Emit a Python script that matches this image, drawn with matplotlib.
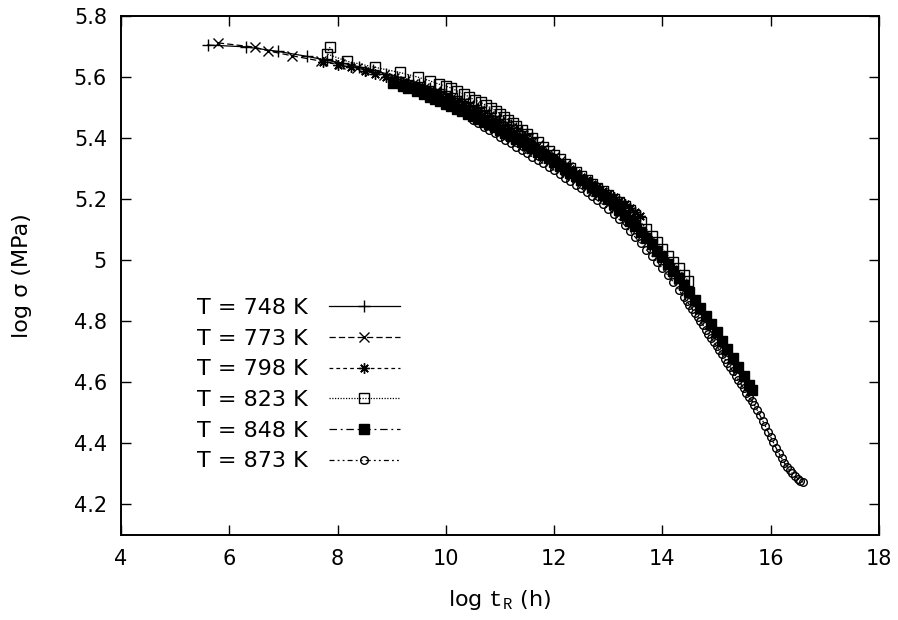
import matplotlib
matplotlib.use("Agg")
import matplotlib.pyplot as plt

plt.rcParams["font.family"] = ["DejaVu Sans"]
plt.rcParams["mathtext.fontset"] = "custom"
plt.rcParams["mathtext.tt"] = "Liberation Mono"
plt.rcParams["mathtext.rm"] = "DejaVu Sans"

# --- data (log t_R, log sigma) ---
x748 = [5.60, 6.30, 6.90, 7.43, 7.80, 8.10, 8.40, 8.65, 8.90, 9.10, 9.30, 9.50,
        9.6, 9.7, 9.8, 9.9, 10.0, 10.1, 10.2, 10.3, 10.4, 10.5, 10.6, 10.7, 10.8,
        10.9, 11.0, 11.1, 11.2, 11.3, 11.4, 11.5, 11.6]
y748 = [5.705, 5.699, 5.684, 5.668, 5.655, 5.645, 5.634, 5.623, 5.611, 5.601, 5.590, 5.578,
        5.572, 5.565, 5.559, 5.552, 5.545, 5.538, 5.530, 5.522, 5.514, 5.506, 5.498, 5.490, 5.481,
        5.472, 5.463, 5.453, 5.443, 5.433, 5.423, 5.412, 5.401]

x773 = [5.79, 6.47, 6.71, 7.15, 7.70, 8.04, 8.35, 8.60, 8.85, 9.05, 9.25,
        9.4, 9.5, 9.6, 9.7, 9.8, 9.9, 10.0, 10.1, 10.2, 10.3, 10.4, 10.5, 10.6, 10.7,
        10.8, 10.9, 11.0, 11.1, 11.2, 11.3, 11.4, 11.5, 11.6, 11.7, 11.8, 11.9, 12.0,
        12.1, 12.2, 12.25]
y773 = [5.712, 5.698, 5.686, 5.670, 5.652, 5.642, 5.630, 5.619, 5.607, 5.597, 5.586,
        5.577, 5.571, 5.565, 5.558, 5.551, 5.544, 5.537, 5.530, 5.522, 5.514, 5.506, 5.498, 5.489, 5.480,
        5.471, 5.462, 5.452, 5.442, 5.432, 5.421, 5.410, 5.399, 5.388, 5.376, 5.364, 5.352, 5.339,
        5.326, 5.313, 5.306]

x798 = [7.73, 8.00, 8.25, 8.50, 8.70, 8.90, 9.05, 9.2, 9.3, 9.4, 9.5, 9.6, 9.7, 9.8, 9.9,
        10.0, 10.1, 10.2, 10.3, 10.4, 10.5, 10.6, 10.7, 10.8, 10.9, 11.0, 11.1, 11.2, 11.3,
        11.4, 11.5, 11.6, 11.7, 11.8, 11.9, 12.0, 12.1, 12.2, 12.3, 12.4, 12.5, 12.6, 12.7,
        12.8, 12.9, 13.0, 13.1, 13.2, 13.3, 13.4, 13.5, 13.58]
y798 = [5.650, 5.641, 5.632, 5.621, 5.611, 5.601, 5.593, 5.584, 5.578, 5.572, 5.565, 5.558, 5.551, 5.543, 5.536,
        5.528, 5.520, 5.512, 5.503, 5.494, 5.485, 5.476, 5.467, 5.457, 5.448, 5.438, 5.428, 5.418, 5.408,
        5.397, 5.387, 5.376, 5.365, 5.354, 5.343, 5.332, 5.320, 5.310, 5.298, 5.286, 5.274, 5.262, 5.250,
        5.239, 5.228, 5.217, 5.206, 5.195, 5.183, 5.170, 5.157, 5.145]

x823 = [7.86, 7.80, 8.17, 8.69, 9.15, 9.48, 9.70, 9.87, 10.00, 10.10, 10.20, 10.33, 10.43, 10.53,
        10.64, 10.74, 10.83, 10.92, 11.00, 11.07, 11.15, 11.24, 11.3, 11.4, 11.5, 11.6, 11.7,
        11.8, 11.9, 12.0, 12.1, 12.2, 12.3, 12.4, 12.5, 12.6, 12.7, 12.8, 12.9, 13.0, 13.1,
        13.2, 13.3, 13.4, 13.5, 13.6, 13.7, 13.8, 13.9, 14.0, 14.1, 14.2, 14.3, 14.4, 14.47]
y823 = [5.698, 5.676, 5.652, 5.632, 5.615, 5.600, 5.588, 5.577, 5.570, 5.564, 5.555, 5.544, 5.535, 5.525,
        5.517, 5.508, 5.499, 5.490, 5.480, 5.470, 5.460, 5.450, 5.440, 5.427, 5.414, 5.400, 5.386,
        5.372, 5.358, 5.344, 5.330, 5.316, 5.302, 5.289, 5.276, 5.263, 5.250, 5.238, 5.226, 5.214, 5.202,
        5.190, 5.177, 5.163, 5.148, 5.125, 5.103, 5.081, 5.059, 5.037, 5.015, 4.994, 4.973, 4.951, 4.933]

x848 = [9.02, 9.2, 9.3, 9.46, 9.6, 9.7, 9.8, 9.9, 10.0, 10.1, 10.2, 10.3, 10.4, 10.5, 10.6,
        10.7, 10.8, 10.9, 11.0, 11.1, 11.2, 11.3, 11.4, 11.5, 11.6, 11.7, 11.8, 11.9, 12.0,
        12.1, 12.2, 12.3, 12.4, 12.5, 12.6, 12.7, 12.8, 12.9, 13.0, 13.1, 13.2, 13.3, 13.4,
        13.5, 13.6, 13.7, 13.8, 13.9, 14.0, 14.1, 14.2, 14.3, 14.4, 14.5, 14.6, 14.7, 14.8,
        14.9, 15.0, 15.1, 15.2, 15.3, 15.4, 15.5, 15.6, 15.65]
y848 = [5.580, 5.570, 5.564, 5.554, 5.543, 5.535, 5.528, 5.520, 5.512, 5.504, 5.496, 5.488, 5.480, 5.472, 5.463,
        5.454, 5.446, 5.437, 5.428, 5.418, 5.408, 5.398, 5.388, 5.378, 5.367, 5.356, 5.345, 5.334, 5.322,
        5.310, 5.298, 5.287, 5.275, 5.263, 5.252, 5.239, 5.226, 5.213, 5.200, 5.183, 5.166, 5.148, 5.130,
        5.111, 5.092, 5.072, 5.052, 5.031, 5.010, 4.988, 4.966, 4.943, 4.920, 4.896, 4.871, 4.845, 4.818,
        4.791, 4.764, 4.736, 4.708, 4.679, 4.650, 4.620, 4.590, 4.576]

x873 = [10.5, 10.6, 10.7, 10.8, 10.9, 11.0, 11.1, 11.2, 11.3, 11.4, 11.5, 11.6, 11.7, 11.8,
        11.9, 12.0, 12.1, 12.2, 12.3, 12.4, 12.5, 12.6, 12.7, 12.8, 12.9, 13.0, 13.1, 13.2,
        13.3, 13.4, 13.5, 13.6, 13.7, 13.8, 13.9, 14.0, 14.1, 14.2, 14.3,
        14.40, 14.45, 14.50, 14.55, 14.60, 14.65, 14.70, 14.75, 14.80, 14.85, 14.90, 14.95,
        15.00, 15.05, 15.10, 15.15, 15.20, 15.25, 15.30, 15.35, 15.40, 15.45, 15.50, 15.55,
        15.60, 15.65, 15.70, 15.75, 15.80, 15.85, 15.90, 15.95, 16.00, 16.05, 16.10, 16.15,
        16.20, 16.25, 16.30, 16.35, 16.40, 16.45, 16.50, 16.55, 16.60]
y873 = [5.458, 5.448, 5.437, 5.426, 5.416, 5.405, 5.394, 5.383, 5.372, 5.361, 5.350, 5.339, 5.328, 5.317,
        5.306, 5.295, 5.283, 5.271, 5.259, 5.247, 5.235, 5.222, 5.209, 5.196, 5.183, 5.169, 5.152, 5.134,
        5.115, 5.095, 5.075, 5.055, 5.035, 5.015, 4.995, 4.973, 4.951, 4.929, 4.904,
        4.878, 4.866, 4.853, 4.840, 4.827, 4.814, 4.800, 4.787, 4.773, 4.760, 4.746, 4.732,
        4.718, 4.706, 4.692, 4.678, 4.664, 4.650, 4.636, 4.622, 4.608, 4.594, 4.580, 4.566,
        4.553, 4.540, 4.525, 4.509, 4.492, 4.475, 4.457, 4.439, 4.421, 4.403, 4.385, 4.368,
        4.352, 4.337, 4.324, 4.312, 4.302, 4.293, 4.285, 4.278, 4.272]

labels = ["T = 748 K", "T = 773 K", "T = 798 K", "T = 823 K", "T = 848 K", "T = 873 K"]
xs = [x748, x773, x798, x823, x848, x873]
ys = [y748, y773, y798, y823, y848, y873]

styles = [
    dict(marker="+", ms=8, dashes=()),
    dict(marker="x", ms=6.5, dashes=(5, 2.5)),
    dict(marker=(8, 2, 0), ms=7.5, dashes=(3, 2.5)),
    dict(marker="s", ms=6.5, mfc="none", dashes=(1, 1.2)),
    dict(marker="s", ms=6.5, dashes=(6, 3, 1.5, 3)),
    dict(marker="o", ms=5.5, mfc="none", dashes=(4, 2.5, 1.5, 2.5, 1.5, 2.5)),
]

fig = plt.figure(figsize=(8.98, 6.2), dpi=100)
ax = fig.add_axes([121 / 898, 1 - 535 / 620, 758 / 898, 519 / 620])

for x, y, lab, st in zip(xs, ys, labels, styles):
    st = dict(st)
    dashes = st.pop("dashes")
    line, = ax.plot(x, y, color="black", lw=0.9, mew=1.0, label=lab, **st)
    if dashes:
        line.set_dashes(dashes)

ax.set_xlim(4, 18)
ax.set_ylim(4.1, 5.8)
ax.set_xticks([4, 6, 8, 10, 12, 14, 16, 18])
ax.set_xticklabels(["4", "6", "8", "10", "12", "14", "16", "18"])
ax.set_yticks([4.2, 4.4, 4.6, 4.8, 5.0, 5.2, 5.4, 5.6, 5.8])
ax.set_yticklabels(["4.2", "4.4", "4.6", "4.8", "5", "5.2", "5.4", "5.6", "5.8"])
ax.tick_params(direction="in", length=7, width=1, top=True, right=True,
               labelsize=15, pad=10)
for s in ax.spines.values():
    s.set_linewidth(1.4)

ax.set_xlabel(r"log $\mathtt{t}_\mathtt{R}$ (h)", fontsize=16, labelpad=14)
ax.set_ylabel("log σ (MPa)", fontsize=16, labelpad=30)

ax.legend(loc="upper left", bbox_to_anchor=(197 / 898, 1 - 298 / 620),
          bbox_transform=fig.transFigure, frameon=False, markerfirst=False,
          numpoints=1, handlelength=3.2, handletextpad=0.95, labelspacing=0.48,
          fontsize=16, borderaxespad=0, borderpad=0)

fig.savefig("out.png", dpi=100)
